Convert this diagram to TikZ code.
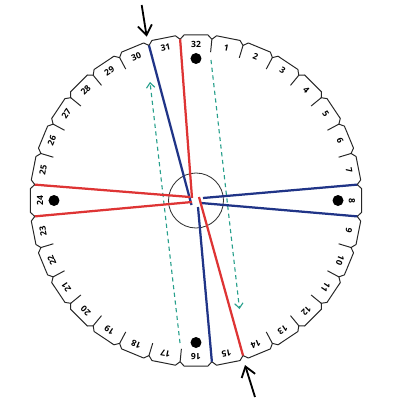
\documentclass[tikz,border=0pt]{standalone}
\usepackage{fontspec}
\setmainfont{Open Sans}
\usetikzlibrary{arrows.meta}
\definecolor{thrRed}{RGB}{222,52,52}
\definecolor{thrBlue}{RGB}{32,52,135}
\definecolor{guide}{RGB}{40,160,140}
\begin{document}
\begin{tikzpicture}[x=0.25mm,y=0.25mm,
 disk/.style={draw=black!85,line width=0.7pt,line join=round},
 slotnum/.style={font=\fontsize{6.1}{6.5}\selectfont\bfseries,inner sep=0pt},
 redthr/.style={draw=thrRed,line width=1.6pt},
 bluethr/.style={draw=thrBlue,line width=1.6pt},
 guideline/.style={draw=guide,line width=0.8pt,dash pattern=on 3pt off 2.5pt,-{Straight Barb[length=3.5pt,width=6pt]}},
 pointer/.style={draw=black,line width=1.3pt,-{Straight Barb[length=7pt,width=10pt]}},
 peg/.style={circle,fill=black,inner sep=0pt,minimum size=2.75mm}]
\useasboundingbox (-196,-199.5) rectangle (204,200.5);
% disk outline
\draw[disk] (95.625:162) \foreach \k in {0,...,31}{ -- ({95.625-11.25*\k-1.5}:166) -- ({95.625-11.25*\k-9.75}:166) -- ({95.625-11.25*(\k+1)}:162)} -- cycle;
\foreach \k in {0,...,31}{
  \coordinate (n\k) at ({95.625-11.25*\k}:162);
  \coordinate (s\k) at ({95.625-11.25*\k}:149);
  \draw[disk] (n\k) -- (s\k);
}
% slot numbers
\foreach \k in {1,...,32}{
  \node[slotnum, rotate={-11.25*\k}] (lab\k) at ({90-11.25*\k}:156) {\k};
}
% pegs
\node[peg] (p32) at (90:142) {};
\node[peg] (p8) at (0:142) {};
\node[peg] (p16) at (270:142) {};
\node[peg] (p24) at (180:142) {};
% centre hole
\node[draw=black!80,circle,line width=0.6pt,inner sep=0pt,minimum size=13.75mm] (hole) at (0,0) {};
% guide arrows
\coordinate (gl1) at (-16,-142.5);
\coordinate (gl2) at (-46,118.5);
\coordinate (gr1) at (15,140.5);
\coordinate (gr2) at (43.5,-108.5);
\draw[guideline] (gl1) -- (gl2);
\draw[guideline] (gr1) -- (gr2);
% thread ends at centre
\coordinate (bt) at (-4.5,-4.5);
\coordinate (rt) at (-4,2.5);
\coordinate (rlu) at (-6,3.5);
\coordinate (rll) at (-4,-1.5);
\coordinate (bru) at (7,2.5);
\coordinate (brl) at (5,-2.5);
\coordinate (bb) at (2,-6.5);
\coordinate (rb) at (3,3.5);
\draw[bluethr] (n31) -- (bt);
\draw[redthr] (n0) -- (rt);
\draw[redthr] (n25) -- (rlu);
\draw[redthr] (n24) -- (rll);
\draw[bluethr] (n8) -- (bru);
\draw[bluethr] (n9) -- (brl);
\draw[bluethr] (n16) -- (bb);
\draw[redthr] (n15) -- (rb);
% pointers
\coordinate (pa1) at (-54.3,195.5);
\coordinate (pa2) at (-49.3,163.8);
\coordinate (pb1) at (59,-196.5);
\coordinate (pb2) at (49,-164.5);
\draw[pointer] (pa1) -- (pa2);
\draw[pointer] (pb1) -- (pb2);
\end{tikzpicture}
\end{document}
